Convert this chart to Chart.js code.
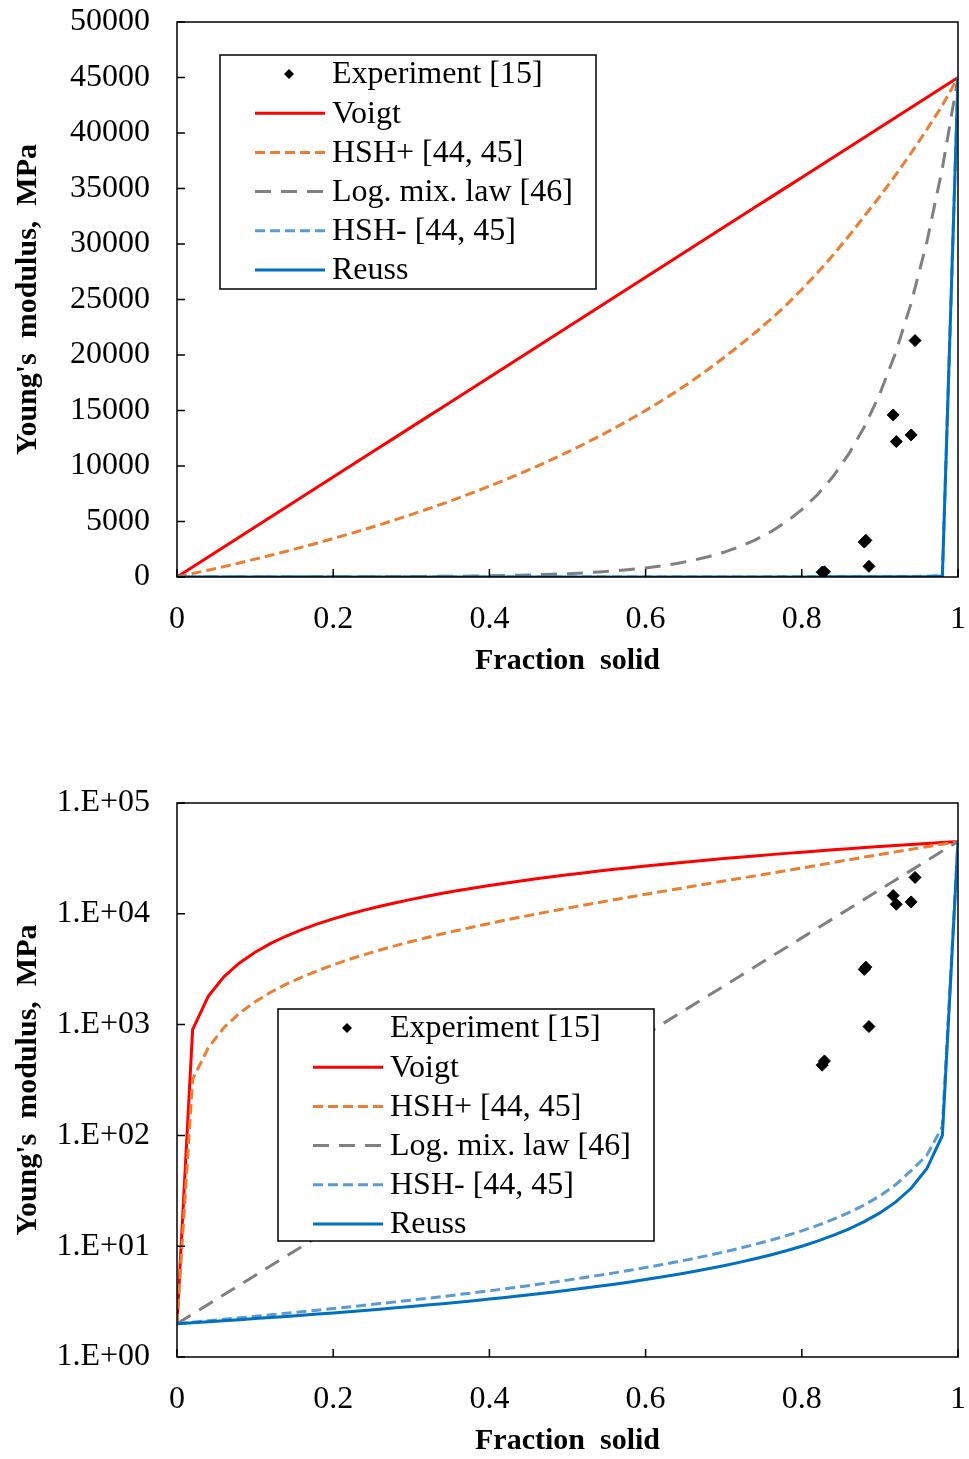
<!DOCTYPE html>
<html><head><meta charset="utf-8">
<script src="https://cdn.jsdelivr.net/npm/chart.js@4.4.1/dist/chart.umd.min.js"></script>
<style>
html,body{margin:0;padding:0;background:#fff;}
body{width:969px;height:1459px;position:relative;overflow:hidden;}
canvas{position:absolute;left:0;}
#c1{top:0;}
#c2{top:781px;}
</style></head><body>
<canvas id="c1" width="969" height="679"></canvas>
<canvas id="c2" width="969" height="678"></canvas>
<script>
// ---------- data ----------
const fractionSolid = [0,0.02,0.04,0.06,0.08,0.1,0.12,0.14,0.16,0.18,0.2,0.22,0.24,0.26,0.28,0.3,0.32,0.34,0.36,0.38,0.4,0.42,0.44,0.46,0.48,0.5,0.52,0.54,0.56,0.58,0.6,0.62,0.64,0.66,0.68,0.7,0.72,0.74,0.76,0.78,0.8,0.82,0.84,0.86,0.88,0.9,0.92,0.94,0.96,0.98,1];
const voigt = [2,902,1802,2702,3602,4502,5402,6302,7202,8102,9002,9902,10802,11702,12602,13502,14402,15302,16202,17102,18002,18902,19802,20702,21602,22501,23401,24301,25201,26101,27001,27901,28801,29701,30601,31501,32401,33301,34201,35101,36000,36900,37800,38700,39600,40500,41400,42300,43200,44100,45000];
const hshPlus = [2,320,616,938,1268,1607,1957,2316,2687,3068,3462,3867,4286,4718,5164,5625,6102,6595,7105,7634,8182,8750,9340,9952,10588,11250,11939,12656,13404,14185,15000,15852,16744,17700,18700,19750,20850,22000,23200,24500,25900,27400,29000,30700,32500,34300,36200,38200,40300,42500,45000];
const logMix = [2,2.444,2.986,3.65,4.458,5.448,6.658,8.136,9.94,12.15,14.84,18.14,22.16,27.08,33.09,40.44,49.41,60.37,73.77,90.14,110.1,134.6,164.4,201,245.5,300,366.6,448,547.4,668.9,817.3,998.6,1220,1491,1822,2226,2720,3324,4061,4962,6063,7409,9053,11063,13517,16519,20183,24660,30140,36830,45000];
const hshMinus = [2,2.06,2.123,2.188,2.256,2.327,2.401,2.479,2.56,2.646,2.735,2.83,2.929,3.033,3.144,3.261,3.384,3.515,3.654,3.803,3.961,4.13,4.311,4.505,4.715,4.941,5.186,5.453,5.743,6.062,6.412,6.799,7.229,7.709,8.25,8.863,9.563,10.37,11.31,12.43,13.76,15.4,17.44,20.07,23.57,28.47,35.82,48.08,66,120,45000];
const reuss = [2,2.041,2.083,2.128,2.174,2.222,2.273,2.326,2.381,2.439,2.5,2.564,2.632,2.703,2.778,2.857,2.941,3.03,3.125,3.226,3.333,3.448,3.571,3.704,3.846,4,4.167,4.348,4.545,4.762,5,5.263,5.556,5.882,6.25,6.667,7.143,7.692,8.333,9.091,10,11.11,12.5,14.28,16.66,19.99,24.99,33.31,49.95,99.78,45000];
const expFs = [0.826,0.829,0.880,0.882,0.886,0.917,0.921,0.940,0.945];
const expE  = [430,470,3150,3300,960,14600,12200,12800,21300];

const xTicks = [0,0.2,0.4,0.6,0.8,1];
const xTickLabels = ['0','0.2','0.4','0.6','0.8','1'];
const yTicksLinear = [0,5000,10000,15000,20000,25000,30000,35000,40000,45000,50000];
const yTickLabelsLinear = ['0','5000','10000','15000','20000','25000','30000','35000','40000','45000','50000'];
const yTicksLog = [1,10,100,1000,10000,100000];
const yTickLabelsLog = ['1.E+00','1.E+01','1.E+02','1.E+03','1.E+04','1.E+05'];

const seriesNames = ['Experiment [15]','Voigt','HSH+ [44, 45]','Log. mix. law [46]','HSH- [44, 45]','Reuss'];

// ---------- helpers ----------
const FONT = '"Liberation Serif", "Times New Roman", serif';
Chart.defaults.font.family = FONT;
Chart.defaults.color = '#000';

const pts = (xs, ys) => xs.map((v, i) => ({x: v, y: ys[i]}));

function makeDatasets() {
  return [
    {label: seriesNames[0], data: pts(expFs, expE), showLine: false, pointStyle: 'rectRot', pointRadius: 6, pointBackgroundColor: '#000', pointBorderColor: '#000', pointBorderWidth: 1, order: 0},
    {label: seriesNames[1], data: pts(fractionSolid, voigt), showLine: true, borderColor: '#FF0000', borderWidth: 3, pointRadius: 0, order: 5},
    {label: seriesNames[2], data: pts(fractionSolid, hshPlus), showLine: true, borderColor: '#ED7D31', borderWidth: 3, borderDash: [10, 5], pointRadius: 0, order: 4},
    {label: seriesNames[3], data: pts(fractionSolid, logMix), showLine: true, borderColor: '#808080', borderWidth: 3, borderDash: [16, 10], pointRadius: 0, order: 3},
    {label: seriesNames[4], data: pts(fractionSolid, hshMinus), showLine: true, borderColor: '#5B9BD5', borderWidth: 3, borderDash: [10, 5], pointRadius: 0, order: 2},
    {label: seriesNames[5], data: pts(fractionSolid, reuss), showLine: true, borderColor: '#0070C0', borderWidth: 3, pointRadius: 0, order: 1}
  ];
}

const framePlugin = {
  id: 'frame',
  afterDatasetsDraw(chart) {
    const {ctx, chartArea: a} = chart;
    const x = chart.scales.x, y = chart.scales.y;
    ctx.save();
    ctx.strokeStyle = '#000';
    ctx.lineWidth = 1.5;
    ctx.setLineDash([]);
    ctx.strokeRect(a.left, a.top, a.right - a.left, a.bottom - a.top);
    ctx.beginPath();
    x.ticks.forEach(t => { const p = x.getPixelForValue(t.value); ctx.moveTo(p, a.bottom); ctx.lineTo(p, a.bottom - 8); });
    y.ticks.forEach(t => { const p = y.getPixelForValue(t.value); ctx.moveTo(a.left, p); ctx.lineTo(a.left + 8, p); });
    ctx.stroke();
    ctx.restore();
  }
};

const boxLegendPlugin = {
  id: 'boxLegend',
  afterDraw(chart, args, opts) {
    const ctx = chart.ctx, a = chart.chartArea;
    const bx = a.left + opts.dx, by = a.top + opts.dy, bw = opts.w, bh = opts.h;
    ctx.save();
    ctx.fillStyle = '#fff';
    ctx.fillRect(bx, by, bw, bh);
    ctx.strokeStyle = '#000';
    ctx.lineWidth = 1.5;
    ctx.setLineDash([]);
    ctx.strokeRect(bx, by, bw, bh);
    ctx.font = '32px ' + FONT;
    ctx.textBaseline = 'middle';
    ctx.textAlign = 'left';
    chart.data.datasets.forEach((ds, i) => {
      const cy = by + 19 + i * 39.2;
      if (ds.showLine) {
        ctx.beginPath();
        ctx.setLineDash(ds.borderDash || []);
        ctx.strokeStyle = ds.borderColor;
        ctx.lineWidth = ds.borderWidth;
        ctx.moveTo(bx + 35, cy);
        ctx.lineTo(bx + 105, cy);
        ctx.stroke();
        ctx.setLineDash([]);
      } else {
        ctx.beginPath();
        ctx.moveTo(bx + 69, cy - 5);
        ctx.lineTo(bx + 74, cy);
        ctx.lineTo(bx + 69, cy + 5);
        ctx.lineTo(bx + 64, cy);
        ctx.closePath();
        ctx.fillStyle = '#000';
        ctx.fill();
      }
      ctx.fillStyle = '#000';
      ctx.fillText(ds.label, bx + 112, cy + 1);
    });
    ctx.restore();
  }
};

function makeChart(id, yCfg, legendPos) {
  return new Chart(document.getElementById(id), {
    type: 'scatter',
    data: {datasets: makeDatasets()},
    options: {
      responsive: false,
      animation: false,
      devicePixelRatio: 1,
      layout: {padding: {left: 0, right: 11, top: 22, bottom: 0}},
      elements: {line: {tension: 0}},
      plugins: {legend: {display: false}, tooltip: {enabled: false}, boxLegend: legendPos},
      scales: {
        x: {
          type: 'linear', min: 0, max: 1,
          grid: {display: false, drawTicks: false},
          border: {display: false},
          afterBuildTicks: s => { s.ticks = xTicks.map(v => ({value: v})); },
          afterFit: s => { s.height = 102; s.paddingLeft = 0; s.paddingRight = 0; },
          ticks: {autoSkip: false, maxRotation: 0, padding: 23, font: {size: 32},
                  callback: (v) => xTickLabels[xTicks.indexOf(v)] ?? ''},
          title: {display: true, text: 'Fraction  solid', font: {size: 30, weight: 'bold'}, padding: {top: 0, bottom: 0}}
        },
        y: Object.assign({
          grid: {display: false, drawTicks: false},
          border: {display: false},
          afterFit: s => { s.width = 177; s.paddingTop = 0; s.paddingBottom = 0; },
          title: {display: true, text: "Young's  modulus,  MPa", font: {size: 30, weight: 'bold'}, padding: {top: 10, bottom: 0}}
        }, yCfg)
      }
    },
    plugins: [framePlugin, boxLegendPlugin]
  });
}

makeChart('c1', {
  type: 'linear', min: 0, max: 50000,
  afterBuildTicks: s => { s.ticks = yTicksLinear.map(v => ({value: v})); },
  ticks: {autoSkip: false, padding: 27, font: {size: 32},
          callback: (v) => yTickLabelsLinear[yTicksLinear.indexOf(v)] ?? ''}
}, {dx: 43, dy: 33, w: 376, h: 234});

makeChart('c2', {
  type: 'logarithmic', min: 1, max: 100000,
  afterBuildTicks: s => { s.ticks = yTicksLog.map(v => ({value: v})); },
  ticks: {autoSkip: false, padding: 27, font: {size: 32},
          callback: (v) => yTickLabelsLog[yTicksLog.indexOf(v)] ?? ''}
}, {dx: 101, dy: 206, w: 376, h: 232});
</script>
</body></html>
